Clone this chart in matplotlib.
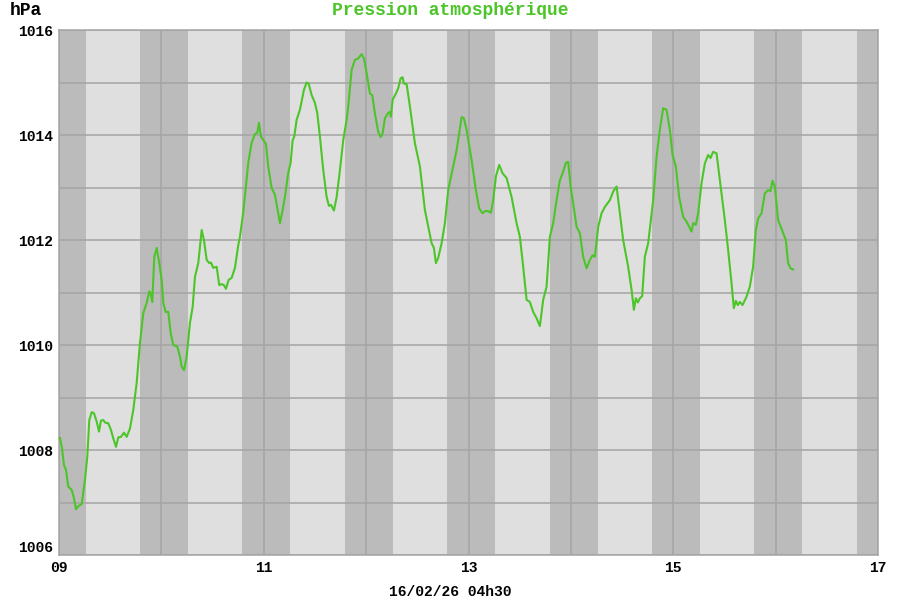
import matplotlib
matplotlib.use("Agg")
import matplotlib.pyplot as plt
import numpy as np

# hours since 09 00h00, pressure in hPa
hours = [0.23, 0.70, 1.17, 1.64, 2.18, 2.98, 3.52, 3.98, 4.52, 5.32, 6.09, 6.63, 7.10, 7.66, 8.20,
         8.84, 9.38, 9.84, 10.38, 10.85, 11.55, 12.19, 12.73, 13.36, 13.90, 14.53, 15.23, 15.87,
         16.64, 17.41, 18.21, 18.98, 19.76, 20.55, 21.16, 21.49, 21.87, 22.34, 22.90, 23.51, 24.07,
         24.45, 25.01, 25.62, 26.18, 26.79, 27.73, 28.36, 28.76, 29.30, 29.93, 30.70, 31.34, 31.88,
         32.65, 33.45, 33.98, 34.62, 35.23, 35.63, 36.16, 36.96, 37.57, 38.13, 38.67, 39.14, 39.77,
         40.48, 41.25, 42.02, 42.42, 43.20, 44.37, 45.16, 45.94, 46.48, 46.88, 47.34, 48.52, 49.05,
         49.85, 50.63, 51.26, 51.80, 52.43, 52.97, 53.74, 54.30, 54.77, 55.15, 55.71, 56.48, 57.42,
         58.05, 58.52, 59.23, 60.00, 60.54, 61.17, 61.95, 62.74, 63.28, 63.75, 64.45, 65.09, 65.86,
         66.63, 67.43, 67.80, 68.60, 69.38, 70.15, 70.95, 71.48, 72.12, 72.89, 73.43, 74.06, 74.84,
         75.40, 75.87, 76.41, 77.18, 77.58, 77.81, 78.21, 78.98, 79.52, 80.09, 80.55, 80.86, 81.49,
         82.27, 83.44, 84.61, 85.78, 87.35, 87.89, 88.36, 88.90, 89.70, 90.47, 91.24, 92.41, 93.21,
         93.82, 94.38, 94.92, 95.55, 96.73, 97.73, 98.51, 99.30, 99.84, 100.62, 101.25, 101.79,
         102.42, 103.20, 103.99, 104.93, 106.10, 107.27, 108.05, 108.82, 109.62, 110.39, 111.16,
         111.96, 112.73, 113.51, 114.30, 115.08, 115.85, 116.65, 117.42, 118.05, 118.83, 119.37,
         119.93, 120.54, 121.34, 122.11, 122.88, 123.68, 124.45, 125.09, 125.63, 126.40, 127.20,
         127.97, 129.14, 129.91, 130.71, 131.48, 132.26, 133.43, 134.23, 134.77, 135.23, 135.70,
         136.17, 136.71, 137.34, 138.12, 139.29, 140.09, 140.86, 141.63, 142.43, 143.20, 143.84,
         144.61, 145.38, 146.32, 147.12, 147.73, 148.29, 148.66, 149.30, 149.84, 150.63, 151.41,
         152.18, 152.74, 153.35, 154.15, 154.92, 156.09, 156.87, 157.66, 158.20, 158.67, 159.14,
         159.61, 160.24, 161.18, 161.95, 162.73, 163.36, 163.90, 164.70, 165.47, 166.24, 166.80,
         167.27, 167.81, 168.59, 169.76, 170.39, 170.93, 171.49, 172.10]
pression = [1008.23, 1008.04, 1007.71, 1007.62, 1007.30, 1007.24, 1007.08, 1006.87, 1006.93, 1006.97,
            1007.43, 1007.87, 1008.57, 1008.72, 1008.70, 1008.54, 1008.35, 1008.56, 1008.57, 1008.52,
            1008.51, 1008.38, 1008.22, 1008.06, 1008.24, 1008.25, 1008.33, 1008.25, 1008.41, 1008.76,
            1009.28, 1010.04, 1010.61, 1010.80, 1011.02, 1010.99, 1010.82, 1011.68, 1011.85, 1011.56,
            1011.24, 1010.80, 1010.63, 1010.63, 1010.23, 1010.00, 1009.97, 1009.78, 1009.59, 1009.52,
            1009.78, 1010.42, 1010.73, 1011.30, 1011.56, 1012.19, 1012.00, 1011.62, 1011.56, 1011.57,
            1011.47, 1011.49, 1011.14, 1011.16, 1011.14, 1011.07, 1011.24, 1011.28, 1011.47, 1011.90,
            1012.06, 1012.53, 1013.47, 1013.85, 1014.02, 1014.04, 1014.23, 1013.97, 1013.83, 1013.40,
            1012.99, 1012.86, 1012.57, 1012.32, 1012.57, 1012.82, 1013.28, 1013.47, 1013.90, 1013.97,
            1014.29, 1014.48, 1014.86, 1015.00, 1014.98, 1014.76, 1014.61, 1014.42, 1013.97, 1013.33,
            1012.82, 1012.65, 1012.67, 1012.56, 1012.82, 1013.33, 1013.90, 1014.29, 1014.54, 1015.24,
            1015.43, 1015.46, 1015.54, 1015.46, 1015.18, 1014.79, 1014.76, 1014.41, 1014.06, 1013.96,
            1014.03, 1014.32, 1014.42, 1014.44, 1014.35, 1014.67, 1014.79, 1014.89, 1015.08, 1015.10,
            1014.98, 1014.97, 1014.54, 1013.84, 1013.40, 1012.57, 1011.94, 1011.85, 1011.56, 1011.66,
            1011.94, 1012.32, 1012.95, 1013.40, 1013.71, 1014.03, 1014.34, 1014.32, 1014.10, 1013.52,
            1012.95, 1012.60, 1012.51, 1012.55, 1012.55, 1012.52, 1012.76, 1013.21, 1013.43, 1013.27,
            1013.18, 1012.82, 1012.32, 1012.06, 1011.49, 1010.86, 1010.82, 1010.63, 1010.51, 1010.36,
            1010.86, 1011.11, 1012.06, 1012.32, 1012.76, 1013.14, 1013.27, 1013.47, 1013.49, 1013.02,
            1012.70, 1012.25, 1012.13, 1011.68, 1011.46, 1011.62, 1011.71, 1011.68, 1012.25, 1012.51,
            1012.63, 1012.76, 1012.92, 1013.02, 1012.51, 1012.00, 1011.49, 1011.05, 1010.67, 1010.89,
            1010.81, 1010.89, 1010.93, 1011.68, 1011.94, 1012.76, 1013.59, 1014.10, 1014.51, 1014.48,
            1014.10, 1013.62, 1013.40, 1012.82, 1012.44, 1012.35, 1012.25, 1012.16, 1012.32, 1012.29,
            1012.51, 1013.08, 1013.46, 1013.62, 1013.56, 1013.68, 1013.65, 1013.14, 1012.38, 1011.81,
            1011.18, 1010.70, 1010.84, 1010.76, 1010.82, 1010.76, 1010.92, 1011.11, 1011.49, 1012.19,
            1012.41, 1012.51, 1012.89, 1012.95, 1012.93, 1013.13, 1013.02, 1012.38, 1012.13, 1012.00,
            1011.56, 1011.46, 1011.44]

jours = list(range(9, 17))          # days shown
coucher = 19.0                      # sunset hour (dark band start)
lever = 6.25                        # sunrise hour (dark band end)
xticks = [9, 11, 13, 15, 17]
xlabels = ["09", "11", "13", "15", "17"]
yticks = [1006, 1008, 1010, 1012, 1014, 1016]
titre = "Pression atmosphérique"
date_maj = "16/02/26 04h30"

mono = ["Liberation Mono", "DejaVu Sans Mono"]
vert = "#4cc529"

x = 9 + np.array(hours) / 24.0

fig = plt.figure(figsize=(9, 6), dpi=100)
ax = fig.add_axes([59 / 900, 45 / 600, 819 / 900, 525 / 600])
ax.set_facecolor("#dfdfdf")

# night bands
ax.axvspan(9, 9 + lever / 24, color="#bbbbbb", lw=0, zorder=0)
for j in jours:
    ax.axvspan(j + coucher / 24, j + 1 + lever / 24, color="#bbbbbb", lw=0, zorder=0)

ax.set_xlim(9, 17)
ax.set_ylim(1006, 1016)
ax.set_xticks(xticks, xlabels)
ax.set_xticks(range(9, 18), minor=True)
ax.set_yticks(range(1006, 1017), minor=True)
ax.set_yticks(yticks)
ax.grid(True, which="both", color="#a4a4a4", lw=1.1, zorder=1)
ax.set_axisbelow(True)
ax.tick_params(which="both", length=0, pad=4)
for s in ax.spines.values():
    s.set_color("#a4a4a4")
    s.set_linewidth(1.1)

for lab in ax.get_xticklabels() + ax.get_yticklabels():
    lab.set_family(mono)
    lab.set_fontweight("bold")
    lab.set_fontsize(10.5)
# bottom y label sits just above its line, like the original
ax.get_yticklabels()[0].set_va("bottom")

ax.plot(x, pression, color=vert, lw=1.5, zorder=3)

fig.text(0.5, 0.982, titre, color=vert, family=mono, fontweight="bold",
         fontsize=13, ha="center", va="center")
fig.text(10 / 900, 0.982, "hPa", color="black", family=mono, fontweight="bold",
         fontsize=13, ha="left", va="center")
fig.text(450 / 900, 1 - 592 / 600, date_maj, color="black", family=mono, fontweight="bold",
         fontsize=10.5, ha="center", va="center")

fig.savefig("out.png", dpi=100)
